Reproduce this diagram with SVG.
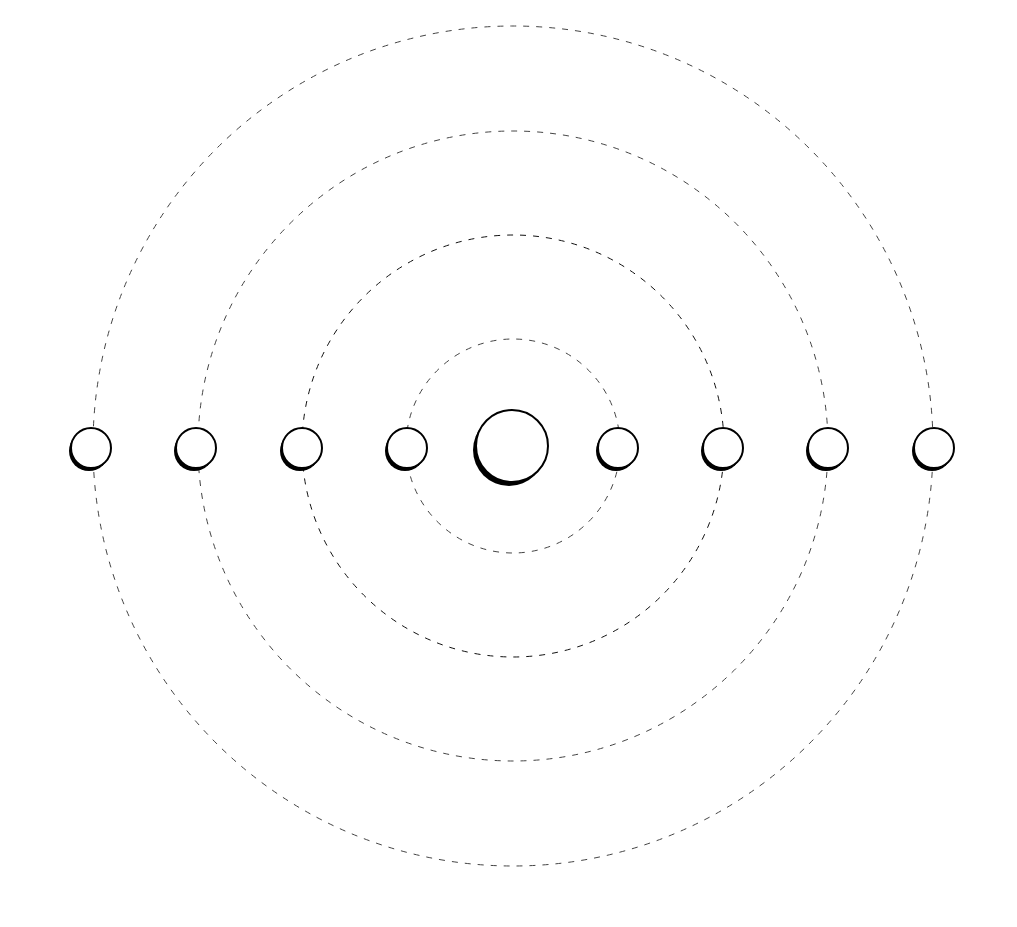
<svg xmlns="http://www.w3.org/2000/svg" width="1017" height="927" viewBox="0 0 1017 927">
<style>
.orbit{fill:none;stroke:#444;stroke-width:1;stroke-dasharray:6 7}
.orbit.dark{stroke:#111}
.shadow{fill:#000}
.body{fill:#fff;stroke:#000;stroke-width:2}
</style>
<rect width="1017" height="927" fill="#fff"/>
<g id="connectors">
<circle class="orbit" cx="513" cy="446" r="107"/>
<circle class="orbit dark" cx="513" cy="446" r="211"/>
<circle class="orbit" cx="513" cy="446" r="315"/>
<circle class="orbit" cx="513" cy="446" r="420"/>
</g>
<g id="center"><circle class="shadow" cx="509" cy="450" r="36"/><circle class="body" cx="512" cy="446" r="36"/></g>
<g id="n1"><circle class="shadow" cx="89" cy="451" r="20"/><circle class="body" cx="91" cy="448" r="20"/></g>
<g id="n2"><circle class="shadow" cx="194" cy="451" r="20"/><circle class="body" cx="196" cy="448" r="20"/></g>
<g id="n3"><circle class="shadow" cx="300" cy="451" r="20"/><circle class="body" cx="302" cy="448" r="20"/></g>
<g id="n4"><circle class="shadow" cx="405" cy="451" r="20"/><circle class="body" cx="407" cy="448" r="20"/></g>
<g id="n5"><circle class="shadow" cx="616" cy="451" r="20"/><circle class="body" cx="618" cy="448" r="20"/></g>
<g id="n6"><circle class="shadow" cx="721" cy="451" r="20"/><circle class="body" cx="723" cy="448" r="20"/></g>
<g id="n7"><circle class="shadow" cx="826" cy="451" r="20"/><circle class="body" cx="828" cy="448" r="20"/></g>
<g id="n8"><circle class="shadow" cx="932" cy="451" r="20"/><circle class="body" cx="934" cy="448" r="20"/></g>
</svg>
